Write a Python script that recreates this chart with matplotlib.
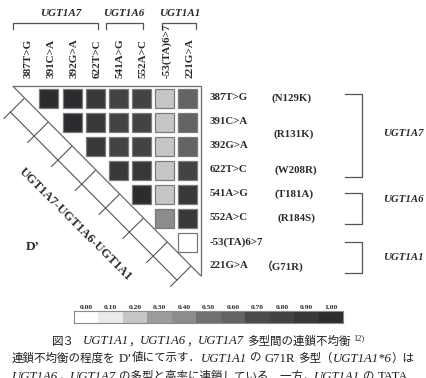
import numpy as np
import matplotlib
matplotlib.use("Agg")
import matplotlib.pyplot as plt
from matplotlib.patches import Rectangle

# ---------------- data ----------------
variants = ["387T>G", "391C>A", "392G>A", "622T>C", "541A>G", "552A>C", "-53(TA)6>7", "221G>A"]
aa_changes = ["(N129K)", "(R131K)", "(W208R)", "(T181A)", "(R184S)", "（G71R)"]
aa_rows = [0, 1.5, 3, 4, 5, 7]
genes = ["UGT1A7", "UGT1A6", "UGT1A1"]
gene_members = [[0, 1, 2, 3], [4, 5], [6, 7]]
# D' values of the upper triangle, row i holds pairs (i, i+1 ... 7)
dprime_rows = [
    [1.0, 1.0, 0.9, 0.8, 0.8, 0.2, 0.6],
    [1.0, 0.9, 0.8, 0.8, 0.2, 0.6],
    [0.9, 0.8, 0.8, 0.2, 0.6],
    [0.9, 0.9, 0.2, 0.8],
    [1.0, 0.2, 0.9],
    [0.4, 0.9],
    [0.0],
]
scale_values = [0.0, 0.1, 0.2, 0.3, 0.4, 0.5, 0.6, 0.7, 0.8, 0.9, 1.0]
scale_labels = ["0.00", "0.10", "0.20", "0.30", "0.40", "0.50", "0.60", "0.70", "0.80", "0.90", "1.00"]
scale_colors = ["#ffffff", "#ebebeb", "#c6c6c6", "#9c9c9c", "#8c8c8c", "#707070",
                "#646466", "#4a4a4c", "#434346", "#38383b", "#2c2c30"]

W, H = 426, 378
fig = plt.figure(figsize=(W / 100, H / 100), dpi=100)
ax = fig.add_axes([0, 0, 1, 1])
X0, PX, Y0, PY = 25.9, 23.08, 98.0, 24.0
ax.set_xlim((0 - X0) / PX, (W - X0) / PX)
ax.set_ylim((H - Y0) / PY, (0 - Y0) / PY)
ax.axis("off")


def P(xp, yp):
    return (xp - X0) / PX, (yp - Y0) / PY


def color_of(v):
    return scale_colors[int(round(v * 10))]


serif = "Liberation Serif"
serif_cjk = ["Liberation Serif", "Noto Sans CJK JP"]
txtc = "#2a2a2a"
linec = "#6a6a6a"

# ---------------- cells ----------------
cw, ch = 19 / PX, 19 / PY
for i, row in enumerate(dprime_rows):
    for k, v in enumerate(row):
        j = i + 1 + k
        ax.add_patch(Rectangle((j - cw / 2, i - ch / 2), cw, ch, facecolor=color_of(v),
                               edgecolor="#7a7a7a", lw=0.9))

# ---------------- triangle frame ----------------
A = np.array([12.7, 86.0]); B = np.array([201.0, 86.0]); C = np.array([201.0, 276.0])
for p, q in [(A, B), (B, C), (A, C)]:
    a, b = P(*p), P(*q)
    ax.plot([a[0], b[0]], [a[1], b[1]], color=linec, lw=0.9, solid_capstyle="butt")

# ladder along hypotenuse
u = (C - A) / np.linalg.norm(C - A)
n = np.array([-u[1], u[0]])
bases = []
for t in range(len(variants)):
    yb = Y0 + PY * t
    xb = A[0] + (yb - A[1]) * (C[0] - A[0]) / (C[1] - A[1])
    bases.append(np.array([xb, yb]))
for b in bases:
    p1, p2 = P(*(b + n * 1.0)), P(*(b + n * 29.0))
    ax.plot([p1[0], p2[0]], [p1[1], p2[1]], color="#555555", lw=0.8)
o1, o2 = P(*(bases[0] + n * 20)), P(*(bases[-1] + n * 20))
ax.plot([o1[0], o2[0]], [o1[1], o2[1]], color="#555555", lw=0.8)

# diagonal label
lab_c = A + u * 143 + n * 53
lx, ly = P(*lab_c)
ax.text(lx, ly, "-".join(["UGT1A7", "UGT1A6", "UGT1A1"]), rotation=-45, ha="center", va="center",
        rotation_mode="anchor", fontsize=9, fontweight="bold", family=serif, color=txtc)
dx, dy = P(33, 247)
ax.text(dx, dy, "D’", fontsize=9.5, fontweight="bold", family=serif, color=txtc, ha="center", va="center")

# ---------------- column labels ----------------
for j, name in enumerate(variants):
    ax.text(j + 0.09, P(0, 78)[1], name, rotation=90, ha="center", va="bottom",
            fontsize=8, fontweight="bold", family=serif, color=txtc)

# top gene brackets
top_br = [(13, 98), (106, 143), (162, 196)]
top_lab_x = [60.5, 124, 179.5]
for g, (x1, x2), lxp in zip(genes, top_br, top_lab_x):
    a, b = P(x1, 23), P(x2, 23)
    a2, b2 = P(x1, 28.5), P(x2, 28.5)
    ax.plot([a2[0], a[0], b[0], b2[0]], [a2[1], a[1], b[1], b2[1]], color="#555555", lw=0.9)
    tx, ty = P(lxp, 13.5)
    ax.text(tx, ty, g, ha="center", va="center", fontsize=8, fontweight="bold", style="italic",
            family=serif, color=txtc)

# ---------------- row labels ----------------
for i, name in enumerate(variants):
    tx, _ = P(210, 0)
    ax.text(tx, i, name, ha="left", va="center", fontsize=7.8, fontweight="bold", family=serif, color=txtc)
aa_x = [272, 274, 275, 275, 278, 262]
for s, r, xp in zip(aa_changes, aa_rows, aa_x):
    ax.text(P(xp, 0)[0], r, s, ha="left", va="center", fontsize=7.8, fontweight="bold",
            family=serif_cjk, color=txtc)

right_br = [(94, 177), (193, 224), (242, 273)]
right_lab = [(383, 133), (383, 200), (383, 258)]
for g, (y1, y2), (lxp, lyp) in zip(genes, right_br, right_lab):
    xs = [P(345, 0)[0], P(362, 0)[0], P(362, 0)[0], P(345, 0)[0]]
    ys = [P(0, y1)[1], P(0, y1)[1], P(0, y2)[1], P(0, y2)[1]]
    ax.plot(xs, ys, color="#555555", lw=0.9)
    tx, ty = P(lxp, lyp)
    ax.text(tx, ty, g, ha="left", va="center", fontsize=7.8, fontweight="bold", style="italic",
            family=serif, color=txtc)

# ---------------- colour scale ----------------
cax = fig.add_axes([74 / W, 1 - 323 / H, 269 / W, 12 / H])
nb = len(scale_values)
for k, v in enumerate(scale_values):
    cax.add_patch(Rectangle((k, 0), 1, 1, facecolor=color_of(v), edgecolor="none"))
cax.set_xlim(0, nb)
cax.set_ylim(0, 1)
cax.set_yticks([])
cax.set_xticks(np.arange(nb) + 0.5)
cax.set_xticklabels(scale_labels, fontsize=5.4, fontweight="bold", family=serif, color=txtc)
cax.tick_params(axis="x", top=True, labeltop=True, bottom=False, labelbottom=False, length=0, pad=0.5)
for s in cax.spines.values():
    s.set_color("#8a8a8a"); s.set_linewidth(0.8)

# ---------------- caption ----------------
cjk = dict(family=["Noto Sans CJK JP", "DejaVu Sans"], fontsize=8.3, color="#1e1e1e")
ita = dict(family=serif, style="italic", fontsize=9.2, color="#1e1e1e")
rom = dict(family=serif, fontsize=9.2, color="#1e1e1e")
sup = dict(family=serif, fontsize=6, color="#1e1e1e")


def draw_runs(runs, y_base, x_left=None, x_center=None):
    objs = []
    for s, kw, gap, dy in runs:
        t = fig.text(0, 1 - (y_base - dy) / H, s, ha="left", va="baseline", **kw)
        objs.append((t, gap))
    fig.canvas.draw()
    r = fig.canvas.get_renderer()
    widths = [t.get_window_extent(r).width for t, _ in objs]
    total = sum(widths) + sum(g for _, g in objs)
    x = x_left if x_left is not None else x_center - total / 2
    for (t, gap), w in zip(objs, widths):
        x += gap
        t.set_x(x / W)
        x += w


draw_runs([("図３", cjk, 0, 0), ("UGT1A1", ita, 8, 0), ("，", cjk, 0, 0), ("UGT1A6", ita, 0, 0),
           ("，", cjk, 0, 0), ("UGT1A7", ita, 0, 0), ("多型間の連鎖不均衡", cjk, 3, 0),
           ("12)", sup, 3, 4)], 344.5, x_center=208)
draw_runs([("連鎖不均衡の程度を", cjk, 0, 0), ("D’", rom, 3, 0), ("値にて示す．", cjk, 0, 0),
           ("UGT1A1", ita, 0, 0), ("の", cjk, 3, 0), ("G71R", rom, 3, 0), ("多型", cjk, 3, 0),
           ("（", cjk, 0, 0), ("UGT1A1*6", ita, 0, 0), ("）は", cjk, 0, 0)], 361.5, x_left=12)
draw_runs([("UGT1A6", ita, 0, 0), ("，", cjk, 0, 0), ("UGT1A7", ita, 0, 0), ("の多型と高率に連鎖している．一方，", cjk, 3, 0),
           ("UGT1A1", ita, 0, 0), ("の", cjk, 3, 0), ("TATA", rom, 3, 0)], 380, x_left=12)

fig.savefig("out.png", dpi=100)
